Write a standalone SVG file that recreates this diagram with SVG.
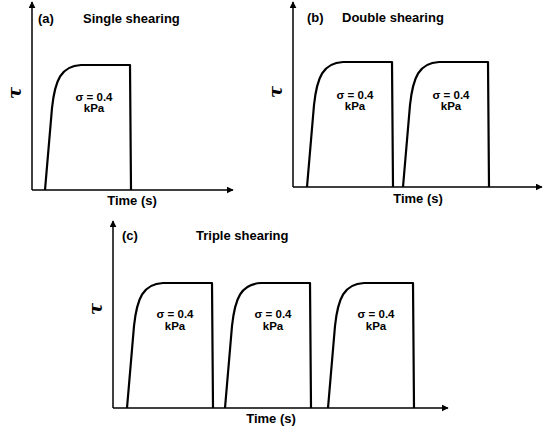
<svg xmlns="http://www.w3.org/2000/svg" xmlns:xlink="http://www.w3.org/1999/xlink" width="550" height="433" viewBox="0 0 550 433">
<style>
.axis{stroke:#000;stroke-width:1.5;fill:none}
.pulse{stroke:#000;stroke-width:2.2;fill:none;stroke-linejoin:round}
.t{font-family:"Liberation Sans",Arial,sans-serif;font-weight:bold;font-size:13px;fill:#000}
.s{font-family:"Liberation Sans",Arial,sans-serif;font-weight:bold;font-size:11.5px;fill:#000;text-anchor:middle}
.tau{font-family:"DejaVu Serif","Liberation Serif",serif;font-style:italic;font-weight:bold;font-size:18px;fill:#000;text-anchor:middle}
</style>
<defs>
<marker id="arr" viewBox="0 0 10 10" refX="9" refY="5" markerWidth="7" markerHeight="7" markerUnits="userSpaceOnUse" orient="auto">
<path d="M0,0 L10,5 L0,10 z" fill="#000"/>
</marker>
<path id="pulse" class="pulse" d="M0,0 L7,-82 C10,-110 16,-124 36,-125 L85,-125 L86,0"/>
</defs>
<rect width="550" height="433" fill="#fff"/>
<g id="connectors">
<path class="axis" d="M32,190 L32,2" marker-end="url(#arr)"/>
<path class="axis" d="M32,190 L233,190" marker-end="url(#arr)"/>
<path class="axis" d="M293,187 L293,2" marker-end="url(#arr)"/>
<path class="axis" d="M293,187 L542,187" marker-end="url(#arr)"/>
<path class="axis" d="M113,408 L113,221" marker-end="url(#arr)"/>
<path class="axis" d="M113,408 L448,408" marker-end="url(#arr)"/>
</g>
<g id="panel-a">
<text class="t" x="38" y="23">(a)</text>
<text class="t" x="83" y="23">Single shearing</text>
<text class="tau" transform="translate(15,93) rotate(-90)" y="6">τ</text>
<text class="t" x="132" y="205" text-anchor="middle">Time (s)</text>
<use xlink:href="#pulse" x="45" y="190"/>
<text class="s" x="94" y="101">σ = 0.4</text>
<text class="s" x="94" y="112">kPa</text>
</g>
<g id="panel-b">
<text class="t" x="307" y="22">(b)</text>
<text class="t" x="342" y="22">Double shearing</text>
<text class="tau" transform="translate(276,92) rotate(-90)" y="6">τ</text>
<text class="t" x="418" y="203" text-anchor="middle">Time (s)</text>
<use xlink:href="#pulse" x="307" y="187"/>
<text class="s" x="355" y="99">σ = 0.4</text>
<text class="s" x="355" y="110">kPa</text>
<use xlink:href="#pulse" x="403" y="187"/>
<text class="s" x="451" y="99">σ = 0.4</text>
<text class="s" x="451" y="110">kPa</text>
</g>
<g id="panel-c">
<text class="t" x="122" y="240">(c)</text>
<text class="t" x="196" y="240">Triple shearing</text>
<text class="tau" transform="translate(96,309) rotate(-90)" y="6">τ</text>
<text class="t" x="271" y="423" text-anchor="middle">Time (s)</text>
<use xlink:href="#pulse" x="127" y="408"/>
<text class="s" x="175" y="318">σ = 0.4</text>
<text class="s" x="175" y="330">kPa</text>
<use xlink:href="#pulse" x="225" y="408"/>
<text class="s" x="273" y="318">σ = 0.4</text>
<text class="s" x="273" y="330">kPa</text>
<use xlink:href="#pulse" x="328" y="408"/>
<text class="s" x="376" y="318">σ = 0.4</text>
<text class="s" x="376" y="330">kPa</text>
</g>
</svg>
